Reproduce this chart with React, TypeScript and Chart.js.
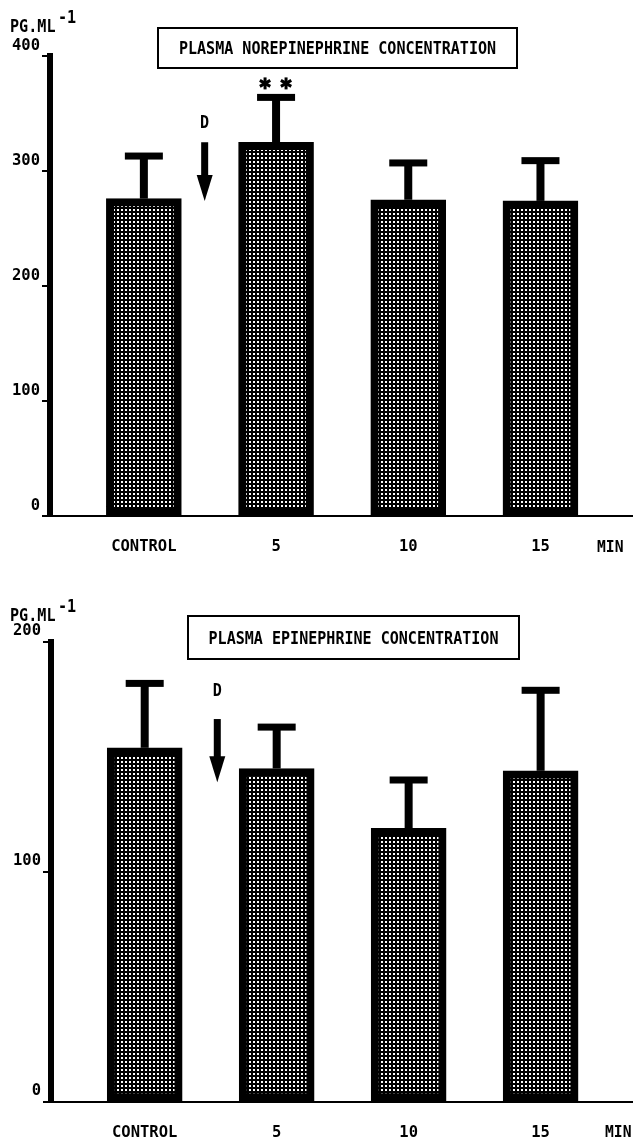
import React, { useEffect, useRef } from 'react';
import { Chart, registerables } from 'chart.js';

Chart.register(...registerables);

// ---- data ----
const categories = ['CONTROL', '5', '10', '15'];
const norepinephrineMean = [276, 325, 275, 274];
const norepinephrineError = [37, 39, 32, 35];
const norepinephrineTicks = [0, 100, 200, 300, 400];
const epinephrineMean = [154, 145, 119, 144];
const epinephrineError = [28, 18, 21, 35];
const epinephrineTicks = [0, 100, 200];
const significantIndex = 1;

const FONT = '"DejaVu Sans Mono", monospace';

function makePattern(ctx: CanvasRenderingContext2D) {
  const c = document.createElement('canvas');
  c.width = 4;
  c.height = 4;
  const g = c.getContext('2d')!;
  g.fillStyle = '#000';
  g.fillRect(0, 0, 4, 4);
  g.fillStyle = '#fff';
  g.fillRect(1, 1, 2, 2);
  return ctx.createPattern(c, 'repeat');
}

function narrowText(
  ctx: CanvasRenderingContext2D,
  text: string,
  x: number,
  y: number,
  size: number,
  align: CanvasTextAlign,
  sx = 0.89
) {
  ctx.save();
  ctx.translate(x, y);
  ctx.scale(sx, 1);
  ctx.font = `bold ${size}px ${FONT}`;
  ctx.textAlign = align;
  ctx.textBaseline = 'alphabetic';
  ctx.fillStyle = '#000';
  ctx.fillText(text, 0, 0);
  ctx.restore();
}

function drawAsterisk(ctx: CanvasRenderingContext2D, cx: number, cy: number, r: number) {
  ctx.save();
  ctx.strokeStyle = '#000';
  ctx.lineWidth = 3;
  ctx.lineCap = 'butt';
  for (let k = 0; k < 3; k++) {
    const a = Math.PI / 2 + (k * Math.PI) / 3;
    ctx.beginPath();
    ctx.moveTo(cx - r * Math.cos(a), cy - r * Math.sin(a));
    ctx.lineTo(cx + r * Math.cos(a), cy + r * Math.sin(a));
    ctx.stroke();
  }
  ctx.restore();
}

interface PanelCfg {
  mean: number[];
  err: number[];
  ticks: number[];
  yMax: number;
  axisX: number;
  top: number;
  bottom: number;
  height: number;
  labelOffset: number;
  title: string;
  titleBox: [number, number, number, number];
  titleBaseline: number;
  unitBaseline: number;
  dX: number;
  dBaselineValue: number;
  arrowTopValue: number;
  arrowTipValue: number;
  minX: number;
  minBaseline: number;
  stars: boolean;
}

function createPanel(canvas: HTMLCanvasElement, cfg: PanelCfg) {
  const ctx = canvas.getContext('2d')!;
  const pattern = makePattern(ctx);

  const overlay = {
    id: 'overlay',
    afterDatasetsDraw(chart: any) {
      const c: CanvasRenderingContext2D = chart.ctx;
      const x = chart.scales.x;
      const y = chart.scales.y;
      c.save();
      c.fillStyle = '#000';
      // error bars
      cfg.mean.forEach((m, i) => {
        const cx = x.getPixelForValue(i);
        const yb = y.getPixelForValue(m);
        const yt = y.getPixelForValue(m + cfg.err[i]);
        c.fillRect(cx - 4, yt, 8, yb - yt);
        c.fillRect(cx - 19, yt - 3.5, 38, 7);
      });
      // significance stars
      if (cfg.stars) {
        const i = significantIndex;
        const cx = x.getPixelForValue(i);
        const yt = y.getPixelForValue(cfg.mean[i] + cfg.err[i]);
        drawAsterisk(c, cx - 11, yt - 14, 6);
        drawAsterisk(c, cx + 10, yt - 14, 6);
      }
      // D arrow
      const ax = x.getPixelForValue(cfg.dX);
      narrowText(c, 'D', ax, y.getPixelForValue(cfg.dBaselineValue), 17, 'center');
      const aTop = y.getPixelForValue(cfg.arrowTopValue);
      const aTip = y.getPixelForValue(cfg.arrowTipValue);
      const headLen = 26;
      c.fillRect(ax - 3.5, aTop, 7, aTip - aTop - headLen + 2);
      c.beginPath();
      c.moveTo(ax - 8, aTip - headLen);
      c.lineTo(ax + 8, aTip - headLen);
      c.lineTo(ax, aTip);
      c.closePath();
      c.fill();
      // title box
      const [bx, by, bw, bh] = cfg.titleBox;
      c.strokeStyle = '#000';
      c.lineWidth = 2;
      c.strokeRect(bx, by, bw, bh);
      narrowText(c, cfg.title, bx + bw / 2, cfg.titleBaseline, 17.5, 'center', 0.86);
      // unit label
      narrowText(c, 'PG.ML', 10, cfg.unitBaseline, 17, 'left');
      narrowText(c, '-1', 58, cfg.unitBaseline - 9, 17, 'left');
      // MIN
      narrowText(c, 'MIN', cfg.minX, cfg.minBaseline, 16.5, 'left');
      c.restore();
    },
  };

  return new Chart(canvas, {
    type: 'bar',
    data: {
      datasets: [
        {
          data: cfg.mean.map((v, i) => ({ x: i, y: v })),
          backgroundColor: pattern as any,
          borderColor: '#000',
          borderWidth: 8,
          borderSkipped: false,
          barThickness: 75,
        },
      ],
    },
    options: {
      animation: false,
      responsive: false,
      maintainAspectRatio: false,
      layout: { padding: { left: 0, right: 0, top: cfg.top, bottom: 0 } },
      plugins: {
        legend: { display: false },
        tooltip: { enabled: false },
        title: { display: false },
      },
      scales: {
        x: {
          type: 'linear',
          offset: false,
          min: -0.71,
          max: 3.7,
          afterBuildTicks: (s: any) => {
            s.ticks = categories.map((_, i) => ({ value: i }));
          },
          afterFit: (s: any) => {
            s.height = cfg.height - cfg.bottom;
          },
          ticks: {
            callback: (v: any) => categories[v] ?? '',
            font: { family: FONT, size: 15.5, weight: 'bold' },
            color: '#000',
            padding: 22,
            autoSkip: false,
            maxRotation: 0,
          },
          grid: { display: false, drawTicks: false, offset: false },
          border: { display: true, color: '#000', width: 2 },
        },
        y: {
          min: 0,
          max: cfg.yMax,
          afterBuildTicks: (s: any) => {
            s.ticks = cfg.ticks.map((v) => ({ value: v }));
          },
          afterFit: (s: any) => {
            s.width = cfg.axisX;
          },
          ticks: {
            font: { family: FONT, size: 15.5, weight: 'bold' },
            color: '#000',
            padding: 2,
            labelOffset: cfg.labelOffset,
          },
          grid: {
            display: true,
            drawOnChartArea: false,
            drawTicks: true,
            tickLength: 8,
            lineWidth: 2,
            color: '#000',
          },
          border: { display: true, color: '#000', width: 6 },
        },
      },
    },
    plugins: [overlay],
  });
}

export default function App() {
  const topRef = useRef<HTMLCanvasElement>(null);
  const botRef = useRef<HTMLCanvasElement>(null);

  useEffect(() => {
    const c1 = createPanel(topRef.current!, {
      mean: norepinephrineMean,
      err: norepinephrineError,
      ticks: norepinephrineTicks,
      yMax: 400,
      axisX: 50,
      top: 56,
      bottom: 516,
      height: 580,
      labelOffset: -10,
      title: 'PLASMA NOREPINEPHRINE CONCENTRATION',
      titleBox: [158, 28, 359, 40],
      titleBaseline: 54,
      unitBaseline: 32,
      dX: 0.46,
      dBaselineValue: 337,
      arrowTopValue: 325,
      arrowTipValue: 274,
      minX: 597,
      minBaseline: 552,
      stars: true,
    });
    const c2 = createPanel(botRef.current!, {
      mean: epinephrineMean,
      err: epinephrineError,
      ticks: epinephrineTicks,
      yMax: 200,
      axisX: 51,
      top: 62,
      bottom: 522,
      height: 564,
      labelOffset: -11,
      title: 'PLASMA EPINEPHRINE CONCENTRATION',
      titleBox: [188, 36, 331, 43],
      titleBaseline: 64,
      unitBaseline: 41,
      dX: 0.55,
      dBaselineValue: 176.5,
      arrowTopValue: 166.5,
      arrowTipValue: 139,
      minX: 605,
      minBaseline: 557,
      stars: false,
    });
    return () => {
      c1.destroy();
      c2.destroy();
    };
  }, []);

  return (
    <div style={{ position: 'absolute', left: 0, top: 0, width: 633, height: 1144, background: '#fff' }}>
      <canvas
        ref={topRef}
        width={633}
        height={580}
        style={{ position: 'absolute', left: 0, top: 0, width: 633, height: 580 }}
      />
      <canvas
        ref={botRef}
        width={633}
        height={564}
        style={{ position: 'absolute', left: 0, top: 580, width: 633, height: 564 }}
      />
    </div>
  );
}
